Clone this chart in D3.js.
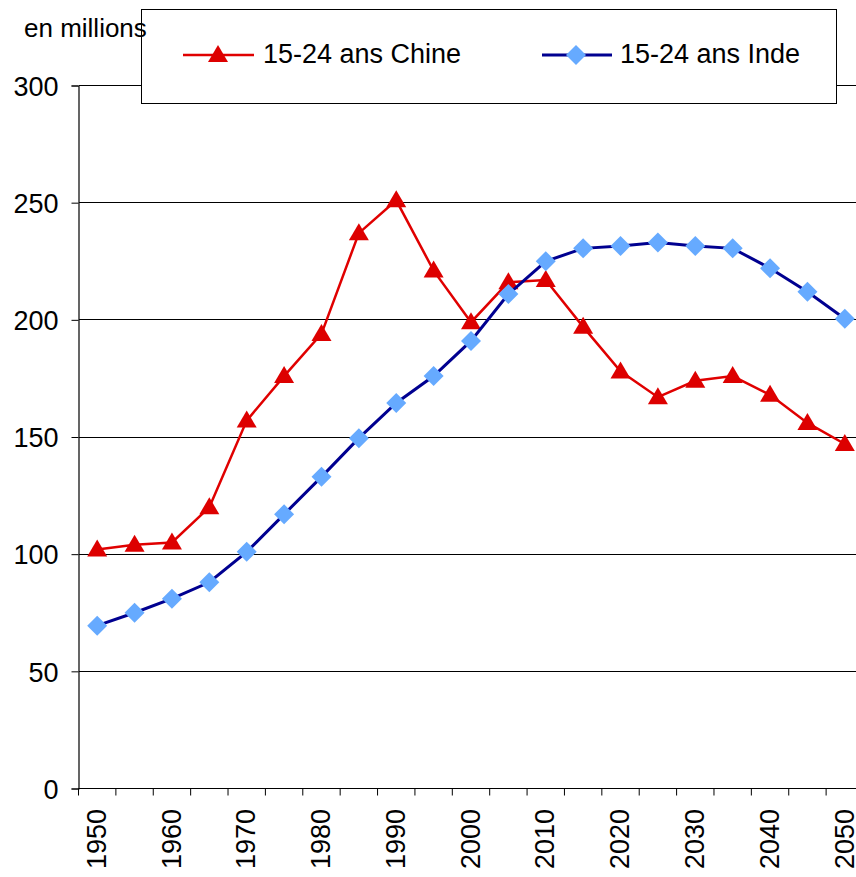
<!DOCTYPE html>
<html>
<head>
<meta charset="utf-8">
<title>15-24 ans Chine / Inde</title>
<script src="https://d3js.org/d3.v7.min.js"></script>
<style>
    body { margin: 0; background: #fff; }
    svg { display: block; font-family: "Liberation Sans", Arial, sans-serif; }
    .grid line { stroke: #000; stroke-width: 1px; shape-rendering: crispEdges; }
    .axis text { font-size: 27px; fill: #000; }
</style>
</head>
<body>
<div id="chart"></div>
<script>
// years on the category axis
var years = [1950, 1955, 1960, 1965, 1970, 1975, 1980, 1985, 1990, 1995, 2000,
             2005, 2010, 2015, 2020, 2025, 2030, 2035, 2040, 2045, 2050];
// 15-24 year olds, millions
var chine = [102, 104, 105, 120, 157, 176, 194, 237, 251, 221, 199,
             216, 217, 197, 178, 167, 174, 176, 168, 156, 147];
var inde  = [69.5, 75, 81, 88, 101, 117, 133, 149.5, 164.5, 176, 191,
             211, 225, 230.5, 231.5, 233, 231.5, 230.5, 222, 212, 200.5];
var yTicks = [0, 50, 100, 150, 200, 250, 300];
var xLabels = [1950, 1960, 1970, 1980, 1990, 2000, 2010, 2020, 2030, 2040, 2050];

var width = 856, height = 877;
var svg = d3.select("#chart").append("svg")
    .attr("width", width).attr("height", height);

var x = d3.scaleBand().domain(years).range([78.5, 863.5]).padding(0);
var y = d3.scaleLinear().domain([0, 300]).range([788.5, 85.5]);
var cx = function (d) { return x(d) + x.bandwidth() / 2; };

// horizontal gridlines
svg.append("g").attr("class", "grid")
    .selectAll("line").data(yTicks).enter().append("line")
    .attr("x1", 78.5).attr("x2", width)
    .attr("y1", function (d) { return y(d); })
    .attr("y2", function (d) { return y(d); });

// y axis
var yAxis = svg.append("g").attr("class", "axis")
    .attr("transform", "translate(78.5,0)")
    .call(d3.axisLeft(y).tickValues(yTicks).tickSize(7).tickPadding(13));
yAxis.select(".domain").attr("stroke", "#000").attr("stroke-width", 1.2);
yAxis.selectAll(".tick line").attr("stroke", "#000");
yAxis.selectAll("text").attr("dy", "0.36em");

// x axis: ticks between categories
var xg = svg.append("g").attr("class", "axis");
xg.append("line").attr("x1", 78.5).attr("x2", width)
    .attr("y1", y(0)).attr("y2", y(0)).attr("stroke", "#000");
xg.selectAll(".xt").data(years.concat([2055])).enter().append("line")
    .attr("class", "xt")
    .attr("x1", function (d, i) { return 78.5 + i * x.step(); })
    .attr("x2", function (d, i) { return 78.5 + i * x.step(); })
    .attr("y1", y(0)).attr("y2", y(0) + 7)
    .attr("stroke", "#000");
xg.selectAll(".xl").data(xLabels).enter().append("text")
    .attr("class", "xl")
    .attr("text-anchor", "end")
    .attr("transform", function (d) { return "translate(" + (cx(d) - 1) + ",809) rotate(-90)"; })
    .attr("dy", "0.36em")
    .text(function (d) { return d; });

// series lines
var line = function (vals) {
    return d3.line().x(function (d, i) { return cx(years[i]); })
        .y(function (d) { return y(d); })(vals);
};
// excel-like markers: square diamond, wide triangle
var tri = "M0,-10L10,7L-10,7Z";
var dia = "M0,-10L10,0L0,10L-10,0Z";

svg.append("path").attr("d", line(chine))
    .attr("fill", "none").attr("stroke", "#e00000").attr("stroke-width", 2.5);
svg.selectAll(".ch").data(chine).enter().append("path")
    .attr("class", "ch")
    .attr("d", tri)
    .attr("transform", function (d, i) { return "translate(" + cx(years[i]) + "," + y(d) + ")"; })
    .attr("fill", "#dd0000");

svg.append("path").attr("d", line(inde))
    .attr("fill", "none").attr("stroke", "#000090").attr("stroke-width", 3);
svg.selectAll(".in").data(inde).enter().append("path")
    .attr("class", "in")
    .attr("d", dia)
    .attr("transform", function (d, i) { return "translate(" + cx(years[i]) + "," + y(d) + ")"; })
    .attr("fill", "#66aaff");

// legend
var lg = svg.append("g");
lg.append("rect").attr("x", 141.5).attr("y", 9.5).attr("width", 695).attr("height", 94)
    .attr("fill", "#fff").attr("stroke", "#000").attr("stroke-width", 1);
lg.append("line").attr("x1", 183).attr("x2", 254).attr("y1", 55).attr("y2", 55)
    .attr("stroke", "#e00000").attr("stroke-width", 2.5);
lg.append("path").attr("d", tri).attr("transform", "translate(218,55)").attr("fill", "#dd0000");
lg.append("text").attr("x", 263).attr("y", 63).attr("font-size", "27px").text("15-24 ans Chine");
lg.append("line").attr("x1", 542).attr("x2", 612).attr("y1", 55).attr("y2", 55)
    .attr("stroke", "#000090").attr("stroke-width", 3);
lg.append("path").attr("d", dia).attr("transform", "translate(576,55)").attr("fill", "#66aaff");
lg.append("text").attr("x", 620).attr("y", 63).attr("font-size", "27px").text("15-24 ans Inde");

// unit label, drawn over the legend box as in the original
svg.append("text").attr("x", 24).attr("y", 37)
    .attr("font-size", "26px").text("en millions");
</script>
</body>
</html>
